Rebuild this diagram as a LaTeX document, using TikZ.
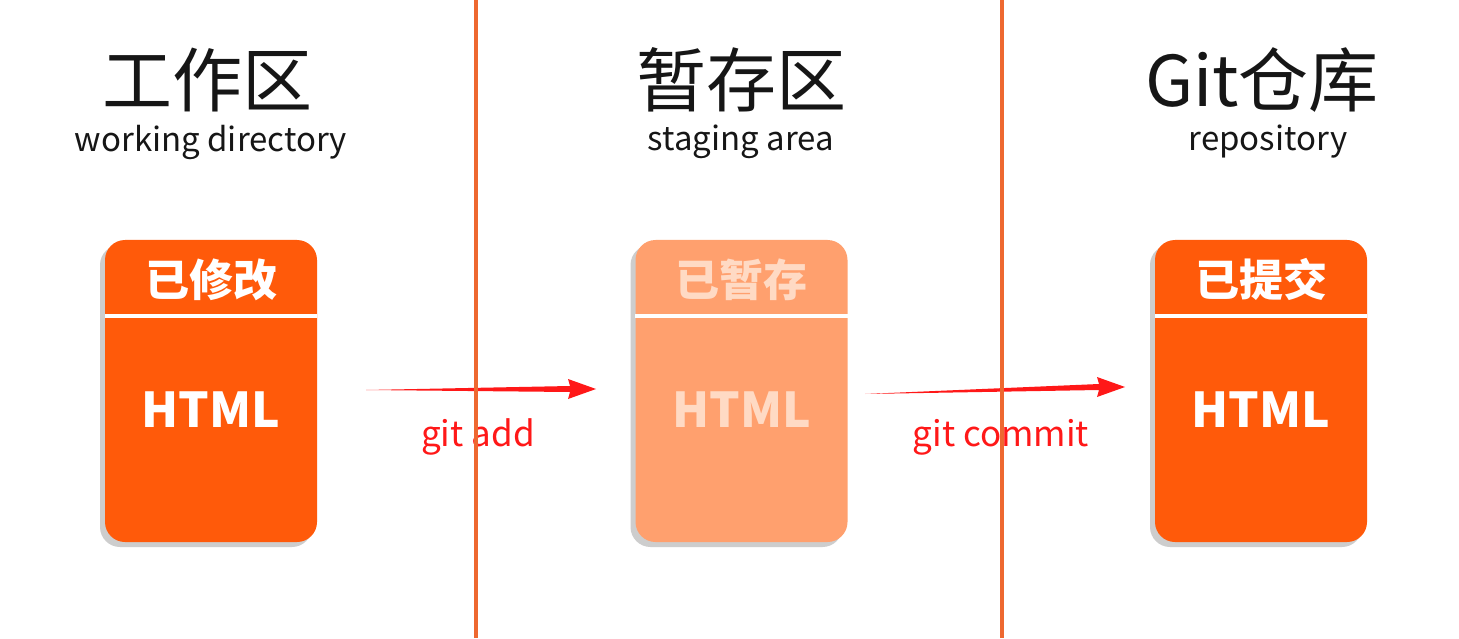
\documentclass[tikz,border=0pt]{standalone}
\usepackage{fontspec}
\setmainfont{Noto Sans CJK SC}
\usetikzlibrary{shapes,arrows,positioning,calc,shadows}
\definecolor{gitorange}{RGB}{255,90,10}
\definecolor{gitpale}{RGB}{255,160,110}
\definecolor{gitpaletext}{RGB}{255,218,196}
\definecolor{gitline}{RGB}{238,104,48}
\definecolor{gitred}{RGB}{255,24,24}
\definecolor{gitink}{RGB}{22,22,22}

\tikzset{
  card/.style={fill=gitorange, rounded corners=10pt, minimum width=106pt, minimum height=151pt,
    drop shadow={shadow xshift=-2.5pt, shadow yshift=-2.5pt, opacity=0.28, fill=black!70}},
  palecard/.style={card, fill=gitpale},
  headtxt/.style={text=white, font=\fontsize{22}{24}\selectfont\bfseries},
  htmltxt/.style={text=white, font=\fontsize{24}{27}\selectfont\bfseries},
  divider/.style={white, line width=2pt},
  title/.style={text=gitink, font=\fontsize{35}{38}\selectfont},
  subtitle/.style={text=gitink, font=\fontsize{16.5}{18}\selectfont},
  cmd/.style={text=gitred, font=\fontsize{17.5}{20}\selectfont},
  zone/.style={gitline, line width=1.6pt}
}

\begin{document}
\begin{tikzpicture}[x=0.5pt, y=0.5pt]
    \useasboundingbox[fill=white] (0,0) rectangle (1459,638);

    % Titles
    \node[title] (wdtitle) at (207,558) {工作区};
    \node[subtitle] (wdsub) at (211,496) {working directory};
    \node[title] (sttitle) at (741,558) {暂存区};
    \node[subtitle] (stsub) at (741,496) {staging area};
    \node[title] (rptitle) at (1262,558) {Git仓库};
    \node[subtitle] (rpsub) at (1268,496) {repository};

    % Working directory card
    \node[card] (wd) at (211,247) {};
    \node[headtxt] (wdhead) at ($(wd.north)+(0,-40)$) {已修改};
    \draw[divider] ($(wd.north west)+(0,-76)$) -- ($(wd.north east)+(0,-76)$);
    \node[htmltxt] (wdfile) at ($(wd.north)+(0,-170)$) {HTML};

    % Staging area card
    \node[palecard] (st) at (741.5,247) {};
    \node[headtxt, text=gitpaletext] (sthead) at ($(st.north)+(0,-40)$) {已暂存};
    \draw[divider] ($(st.north west)+(0,-76)$) -- ($(st.north east)+(0,-76)$);
    \node[htmltxt, text=gitpaletext] (stfile) at ($(st.north)+(0,-170)$) {HTML};

    % Repository card
    \node[card] (rp) at (1261,247) {};
    \node[headtxt] (rphead) at ($(rp.north)+(0,-40)$) {已提交};
    \draw[divider] ($(rp.north west)+(0,-76)$) -- ($(rp.north east)+(0,-76)$);
    \node[htmltxt] (rpfile) at ($(rp.north)+(0,-170)$) {HTML};

    % Commands
    \coordinate (addstart) at (366,248);
    \coordinate (addend) at (596,249);
    \fill[gitred] (addstart) -- ($(addend)+(-26,3)$) -- ($(addend)+(-28,10)$) -- (addend)
        -- ($(addend)+(-28,-10)$) -- ($(addend)+(-26,-3)$) -- cycle;
    \node[cmd] (add) at (478,201) {git add};

    \coordinate (commitstart) at (865,244);
    \coordinate (commitend) at (1125,251);
    \fill[gitred] (commitstart) -- ($(commitend)+(-26,3)$) -- ($(commitend)+(-28,10)$) -- (commitend)
        -- ($(commitend)+(-28,-10)$) -- ($(commitend)+(-26,-3)$) -- cycle;
    \node[cmd] (commit) at (1001,201) {git commit};

    % Zone borders
    \draw[zone] (476,0) -- (476,638);
    \draw[zone] (1002,0) -- (1002,638);
\end{tikzpicture}
\end{document}
